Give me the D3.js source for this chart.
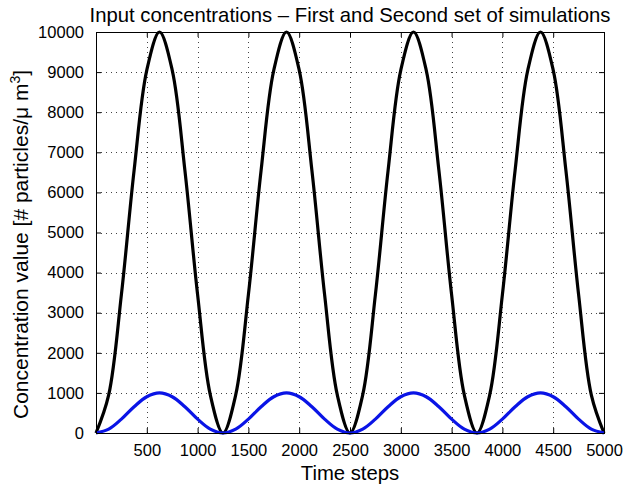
<!DOCTYPE html>
<html>
<head>
<meta charset="utf-8">
<script src="https://cdn.jsdelivr.net/npm/d3@7"></script>
<style>
  html, body { margin: 0; padding: 0; background: #fff; }
  svg { display: block; font-family: "Liberation Sans", Arial, sans-serif; }
</style>
</head>
<body>
<div id="container"></div>
<script>
// time axis samples (every 125 steps)
const timeSteps = d3.range(0, 5001, 125);
// first set of simulations (black)
const firstSet = [
  0, 950, 3450, 6550, 9050, 10000, 9050, 6550, 3450, 950,
  0, 950, 3450, 6550, 9050, 10000, 9050, 6550, 3450, 950,
  0, 950, 3450, 6550, 9050, 10000, 9050, 6550, 3450, 950,
  0, 950, 3450, 6550, 9050, 10000, 9050, 6550, 3450, 950,
  0
];
// second set of simulations (blue)
const secondSet = [
  0, 95, 345, 655, 905, 1000, 905, 655, 345, 95,
  0, 95, 345, 655, 905, 1000, 905, 655, 345, 95,
  0, 95, 345, 655, 905, 1000, 905, 655, 345, 95,
  0, 95, 345, 655, 905, 1000, 905, 655, 345, 95,
  0
];
const xTicks = [500, 1000, 1500, 2000, 2500, 3000, 3500, 4000, 4500, 5000];
const yTicks = [0, 1000, 2000, 3000, 4000, 5000, 6000, 7000, 8000, 9000, 10000];

const width = 625, height = 489;
const margin = {left: 96, right: 21, top: 32, bottom: 56};

const svg = d3.select("#container").append("svg")
  .attr("width", width)
  .attr("height", height);

const x = d3.scaleLinear().domain([0, 5000]).range([margin.left, width - margin.right]);
const y = d3.scaleLinear().domain([0, 10000]).range([height - margin.bottom, margin.top]);

const x0 = x.range()[0], x1 = x.range()[1];
const y0 = y.range()[0], y1 = y.range()[1];
const fmt = d3.format("d");

// grid
const grid = svg.append("g")
  .attr("stroke", "#444")
  .attr("stroke-width", 1)
  .attr("stroke-dasharray", "1,4");
grid.selectAll(".gx").data(xTicks.filter(t => t < 5000)).join("line")
  .attr("x1", d => Math.round(x(d)) + 0.5).attr("x2", d => Math.round(x(d)) + 0.5)
  .attr("y1", y1).attr("y2", y0);
grid.selectAll(".gy").data(yTicks.filter(t => t > 0 && t < 10000)).join("line")
  .attr("y1", d => Math.round(y(d)) + 0.5).attr("y2", d => Math.round(y(d)) + 0.5)
  .attr("x1", x0).attr("x2", x1);

// axes (MATLAB style: inward ticks on all sides)
const tickLen = 5;
svg.append("g")
  .attr("transform", `translate(0,${y0})`)
  .call(d3.axisBottom(x).tickValues(xTicks).tickFormat(fmt).tickSizeInner(-tickLen).tickSizeOuter(0).tickPadding(11))
  .call(g => g.select(".domain").remove());
svg.append("g")
  .attr("transform", `translate(0,${y1})`)
  .call(d3.axisTop(x).tickValues(xTicks).tickSizeInner(-tickLen).tickSizeOuter(0).tickFormat(""))
  .call(g => g.select(".domain").remove());
svg.append("g")
  .attr("transform", `translate(${x0},0)`)
  .call(d3.axisLeft(y).tickValues(yTicks).tickFormat(fmt).tickSizeInner(-tickLen).tickSizeOuter(0).tickPadding(12))
  .call(g => g.select(".domain").remove());
svg.append("g")
  .attr("transform", `translate(${x1},0)`)
  .call(d3.axisRight(y).tickValues(yTicks).tickSizeInner(-tickLen).tickSizeOuter(0).tickFormat(""))
  .call(g => g.select(".domain").remove());

svg.selectAll(".tick text")
  .attr("font-size", 16.5)
  .attr("font-family", "Liberation Sans, Arial, sans-serif")
  .attr("fill", "#000");
svg.selectAll(".tick line").attr("stroke", "#000");

// lines
const line = d3.line()
  .x((d, i) => x(timeSteps[i]))
  .y(d => y(d))
  .curve(d3.curveCatmullRom.alpha(0.5));

svg.append("path")
  .datum(firstSet)
  .attr("fill", "none")
  .attr("stroke", "#000")
  .attr("stroke-width", 3.2)
  .attr("d", line);

svg.append("path")
  .datum(secondSet)
  .attr("fill", "none")
  .attr("stroke", "#0a14e6")
  .attr("stroke-width", 3.2)
  .attr("d", line);

// box
svg.append("rect")
  .attr("x", x0 + 0.5).attr("y", y1 + 0.5)
  .attr("width", x1 - x0).attr("height", y0 - y1)
  .attr("fill", "none")
  .attr("stroke", "#000")
  .attr("stroke-width", 1);

// title and labels
svg.append("text")
  .attr("x", (x0 + x1) / 2)
  .attr("y", 22)
  .attr("text-anchor", "middle")
  .attr("font-size", 20.3)
  .text("Input concentrations – First and Second set of simulations");

svg.append("text")
  .attr("x", (x0 + x1) / 2)
  .attr("y", 480)
  .attr("text-anchor", "middle")
  .attr("font-size", 20.3)
  .text("Time steps");

const yl = svg.append("text")
  .attr("transform", `translate(28,${(y0 + y1) / 2 + 12}) rotate(-90)`)
  .attr("text-anchor", "middle")
  .attr("font-size", 21);
yl.append("tspan").text("Concentration value [# particles/\u03bc m");
yl.append("tspan").attr("font-size", 14).attr("dy", -8).text("3");
yl.append("tspan").attr("dy", 8).text("]");
</script>
</body>
</html>
